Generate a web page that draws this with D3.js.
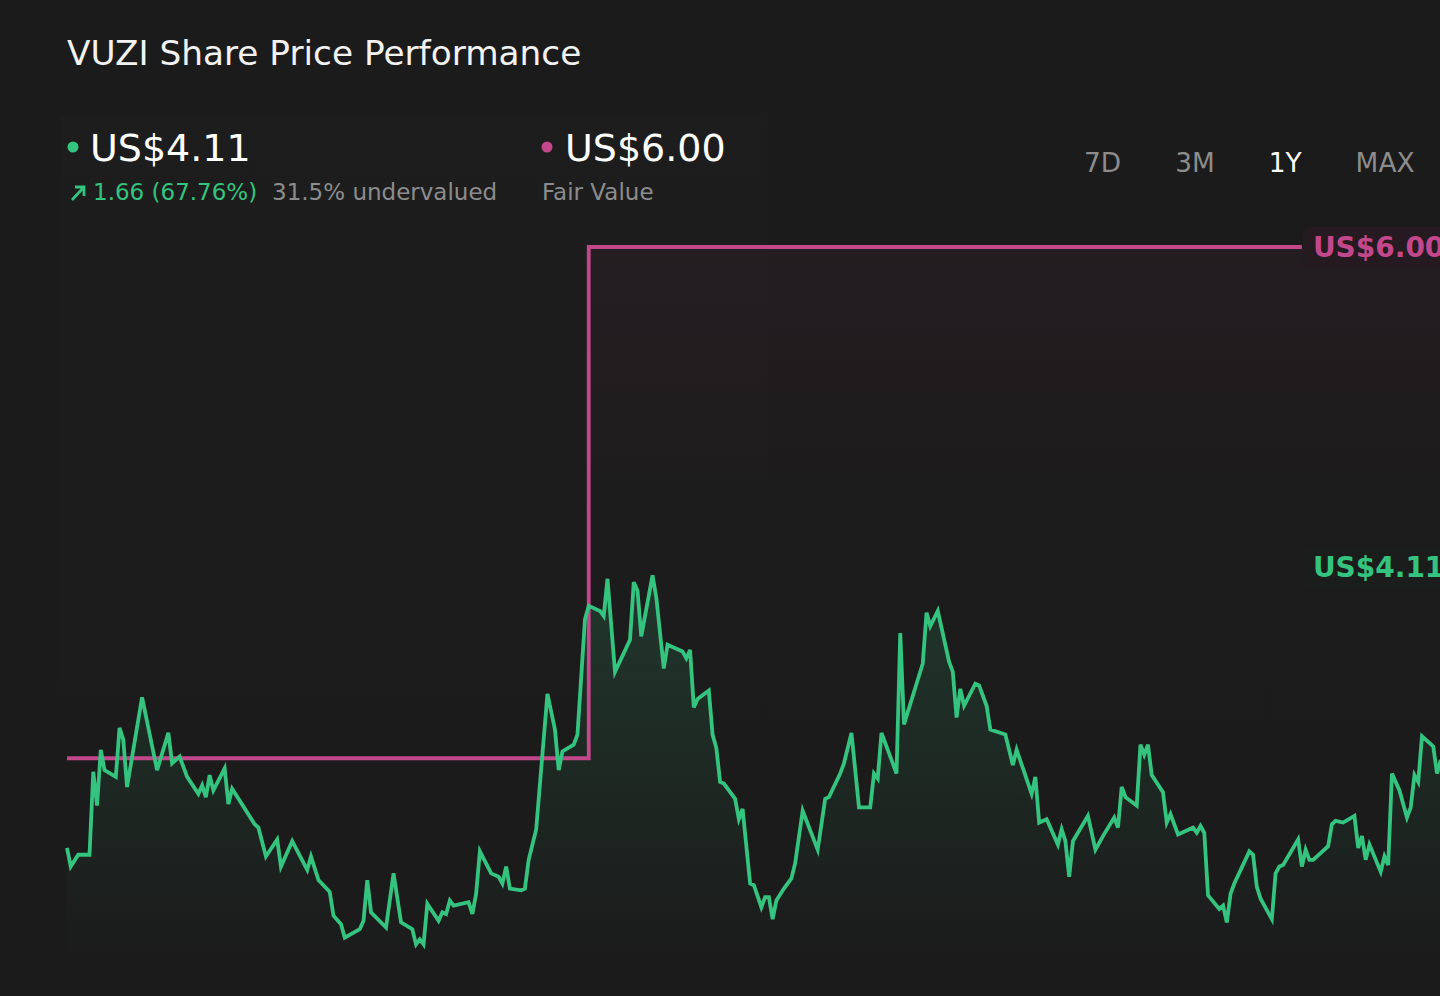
<!DOCTYPE html>
<html>
<head>
<meta charset="utf-8">
<script src="https://cdn.jsdelivr.net/npm/d3@7"></script>
<style>
  html, body { margin: 0; padding: 0; background: #1b1b1b; overflow: hidden; }
  svg { display: block; font-family: "DejaVu Sans", sans-serif; }
</style>
</head>
<body>
<div id="chart"></div>
<script>
const width = 1440
const height = 996

// DATA (days since start of the 1Y window, close price in US$)
const priceDays = [0, 1, 3, 6, 7, 8, 9, 10, 13, 14, 15, 16, 20, 24, 27, 28, 30, 32, 35, 36, 37, 38, 39, 42, 43, 44, 50, 51, 53, 56, 57, 60, 64, 65, 67, 70, 71, 73, 74, 78, 79, 80, 81, 85, 87, 89, 92, 93, 94, 95, 96, 99, 100, 101, 102, 103, 107, 108, 109, 110, 113, 115, 116, 117, 118, 121, 122, 123, 125, 128, 130, 131, 132, 135, 136, 138, 139, 142, 143, 144, 146, 150, 151, 152, 153, 156, 157, 159, 160, 164, 165, 166, 167, 168, 171, 172, 173, 174, 175, 178, 179, 180, 182, 183, 185, 186, 187, 188, 189, 191, 193, 194, 196, 200, 202, 203, 206, 207, 209, 211, 214, 215, 216, 217, 221, 222, 223, 228, 229, 230, 232, 235, 236, 237, 238, 239, 242, 243, 245, 246, 250, 252, 253, 257, 258, 259, 261, 264, 265, 266, 267, 268, 272, 274, 276, 279, 280, 281, 282, 285, 286, 287, 288, 289, 292, 293, 294, 296, 300, 301, 302, 303, 304, 307, 308, 309, 310, 311, 315, 316, 317, 318, 321, 322, 323, 324, 328, 329, 330, 331, 332, 336, 337, 338, 340, 343, 344, 345, 346, 347, 350, 351, 352, 353, 355, 357, 358, 359, 360, 361, 364, 365, 366]
const prices = [2.45, 2.34, 2.41, 2.41, 2.90, 2.70, 3.03, 2.91, 2.87, 3.16, 3.09, 2.81, 3.34, 2.91, 3.13, 2.95, 2.99, 2.87, 2.77, 2.82, 2.75, 2.88, 2.79, 2.92, 2.71, 2.80, 2.59, 2.57, 2.40, 2.50, 2.34, 2.49, 2.32, 2.40, 2.26, 2.19, 2.05, 2.00, 1.92, 1.97, 2.02, 2.26, 2.07, 1.98, 2.30, 2.01, 1.97, 1.88, 1.91, 1.88, 2.12, 2.02, 2.07, 2.06, 2.14, 2.11, 2.13, 2.06, 2.18, 2.43, 2.30, 2.28, 2.24, 2.34, 2.21, 2.20, 2.21, 2.38, 2.56, 3.36, 3.15, 2.91, 3.02, 3.06, 3.12, 3.80, 3.88, 3.85, 3.82, 4.04, 3.49, 3.68, 4.02, 3.97, 3.70, 4.06, 3.93, 3.51, 3.65, 3.61, 3.57, 3.62, 3.28, 3.33, 3.38, 3.12, 3.04, 2.84, 2.83, 2.74, 2.62, 2.68, 2.24, 2.23, 2.10, 2.16, 2.16, 2.03, 2.14, 2.21, 2.27, 2.36, 2.67, 2.44, 2.74, 2.75, 2.89, 2.95, 3.13, 2.69, 2.69, 2.89, 2.86, 3.13, 2.89, 3.72, 3.18, 3.54, 3.84, 3.76, 3.85, 3.55, 3.49, 3.22, 3.39, 3.29, 3.42, 3.41, 3.29, 3.15, 3.12, 2.94, 3.03, 2.77, 2.87, 2.60, 2.62, 2.47, 2.56, 2.49, 2.28, 2.49, 2.64, 2.44, 2.52, 2.63, 2.57, 2.81, 2.75, 2.70, 3.06, 3.00, 3.06, 2.88, 2.78, 2.60, 2.65, 2.53, 2.57, 2.54, 2.58, 2.54, 2.17, 2.09, 2.11, 2.01, 2.18, 2.24, 2.43, 2.41, 2.22, 2.15, 2.03, 2.30, 2.34, 2.35, 2.50, 2.34, 2.44, 2.38, 2.38, 2.46, 2.59, 2.61, 2.60, 2.64, 2.45, 2.52, 2.38, 2.47, 2.31, 2.40, 2.35, 2.89, 2.79, 2.63, 2.69, 2.88, 2.84, 3.11, 3.05, 2.89, 2.97]

const fairValueDays = [0, 139, 329]
const fairValues = [2.98, 6.0, 6.0]

const lastPrice = 4.11
const fairValueNow = 6.0
const periods = ["7D", "3M", "1Y", "MAX"]
const activePeriod = "1Y"

const priceData = priceDays.map((d, i) => ({ day: d, value: prices[i] }))
const fvData = fairValueDays.map((d, i) => ({ day: d, value: fairValues[i] }))

const green = "#34c47f"
const pink = "#c2478b"
const grey = "#8c8c8c"

const svg = d3
  .select("#chart")
  .append("svg")
  .attr("width", width)
  .attr("height", height)
  .attr("viewBox", [0, 0, width, height])

svg.append("rect").attr("width", width).attr("height", height).attr("fill", "#1b1b1b")

// SCALES
const xScale = d3.scaleLinear().domain([0, 365]).range([67, 1437])
const yScale = d3.scaleLinear().domain([1.8, 6]).range([958, 247])

// GRADIENTS
const defs = svg.append("defs")
const gGreen = defs
  .append("linearGradient")
  .attr("id", "grad-green")
  .attr("x1", 0).attr("x2", 0).attr("y1", 0).attr("y2", 1)
gGreen.append("stop").attr("offset", "0%").attr("stop-color", green).attr("stop-opacity", 0.16)
gGreen.append("stop").attr("offset", "100%").attr("stop-color", green).attr("stop-opacity", 0)

const gPink = defs
  .append("linearGradient")
  .attr("id", "grad-pink")
  .attr("x1", 0).attr("x2", 0).attr("y1", 0).attr("y2", 1)
gPink.append("stop").attr("offset", "0%").attr("stop-color", pink).attr("stop-opacity", 0.05)
gPink.append("stop").attr("offset", "35%").attr("stop-color", pink).attr("stop-opacity", 0.008)
gPink.append("stop").attr("offset", "100%").attr("stop-color", pink).attr("stop-opacity", 0)

const gPanel = defs
  .append("linearGradient")
  .attr("id", "grad-panel")
  .attr("x1", 0).attr("x2", 0).attr("y1", 0).attr("y2", 1)
gPanel.append("stop").attr("offset", "0%").attr("stop-color", "#ffffff").attr("stop-opacity", 0.008)
gPanel.append("stop").attr("offset", "100%").attr("stop-color", "#ffffff").attr("stop-opacity", 0)

// faint panel behind the undervalued zone
svg
  .append("rect")
  .attr("x", xScale(0) - 6)
  .attr("y", 115)
  .attr("width", xScale(fairValueDays[1]) - xScale(0) + 185)
  .attr("height", 800)
  .attr("fill", "url(#grad-panel)")

// FAIR VALUE AREA
const fvArea = d3
  .area()
  .curve(d3.curveStepAfter)
  .x((d) => xScale(d.day))
  .y0(yScale(1.8))
  .y1((d) => yScale(d.value))

svg
  .append("path")
  .datum(fvData.concat([{ day: 372, value: fairValueNow }]))
  .attr("d", fvArea)
  .attr("fill", "url(#grad-pink)")

// PRICE AREA
const priceArea = d3
  .area()
  .x((d) => xScale(d.day))
  .y0(yScale(1.8))
  .y1((d) => yScale(d.value))

svg.append("path").datum(priceData).attr("d", priceArea).attr("fill", "url(#grad-green)")

// LINES
const fvLine = d3
  .line()
  .curve(d3.curveStepAfter)
  .x((d) => xScale(d.day))
  .y((d) => yScale(d.value))

svg
  .append("path")
  .datum(fvData)
  .attr("d", fvLine)
  .attr("fill", "none")
  .attr("stroke", pink)
  .attr("stroke-width", 3.8)

const priceLine = d3
  .line()
  .x((d) => xScale(d.day))
  .y((d) => yScale(d.value))

svg
  .append("path")
  .datum(priceData)
  .attr("d", priceLine)
  .attr("fill", "none")
  .attr("stroke", green)
  .attr("stroke-width", 3.8)

// RIGHT LABELS
const labelX = xScale(fairValueDays[2]) + 1
const rightLabels = [
  { value: fairValueNow, color: pink, bg: "#241a20" },
  { value: lastPrice, color: green, bg: "#1b1d1c" },
]
rightLabels.forEach((l) => {
  svg
    .append("rect")
    .attr("x", labelX)
    .attr("y", yScale(l.value) - 20)
    .attr("width", 170)
    .attr("height", 40)
    .attr("rx", 6)
    .attr("fill", l.bg)
  svg
    .append("text")
    .attr("x", labelX + 10)
    .attr("y", yScale(l.value) + 10)
    .attr("fill", l.color)
    .attr("font-size", 28)
    .attr("font-weight", "bold")
    .text("US$" + l.value.toFixed(2))
})

// HEADER
svg
  .append("text")
  .attr("x", 67)
  .attr("y", 65)
  .attr("fill", "#f2f2f2")
  .attr("font-size", 34.3)
  .text("VUZI Share Price Performance")

svg.append("circle").attr("cx", 73).attr("cy", 147).attr("r", 5.5).attr("fill", green)
svg
  .append("text")
  .attr("x", 90)
  .attr("y", 161)
  .attr("fill", "#ffffff")
  .attr("font-size", 38)
  .text("US$" + lastPrice.toFixed(2))

// up arrow
svg
  .append("path")
  .attr("d", "M72,200 L84,187 M75,187 L84,187 L84,196")
  .attr("fill", "none")
  .attr("stroke", green)
  .attr("stroke-width", 2.8)
svg
  .append("text")
  .attr("x", 93)
  .attr("y", 200)
  .attr("fill", green)
  .attr("font-size", 23)
  .text("1.66 (67.76%)")
svg
  .append("text")
  .attr("x", 272)
  .attr("y", 200)
  .attr("fill", grey)
  .attr("font-size", 23)
  .text("31.5% undervalued")

svg.append("circle").attr("cx", 547).attr("cy", 147).attr("r", 5.5).attr("fill", pink)
svg
  .append("text")
  .attr("x", 565)
  .attr("y", 161)
  .attr("fill", "#ffffff")
  .attr("font-size", 38)
  .text("US$" + fairValueNow.toFixed(2))
svg
  .append("text")
  .attr("x", 542)
  .attr("y", 200)
  .attr("fill", grey)
  .attr("font-size", 23)
  .text("Fair Value")

// PERIOD BUTTONS (laid out left to right with a fixed gap)
let px = 1084
periods.forEach((p) => {
  const t = svg
    .append("text")
    .attr("class", "period")
    .attr("x", px)
    .attr("y", 172)
    .attr("font-size", 26.4)
    .attr("fill", p === activePeriod ? "#ffffff" : grey)
    .text(p)
  px += t.node().getComputedTextLength() + 54
})
</script>
</body>
</html>
